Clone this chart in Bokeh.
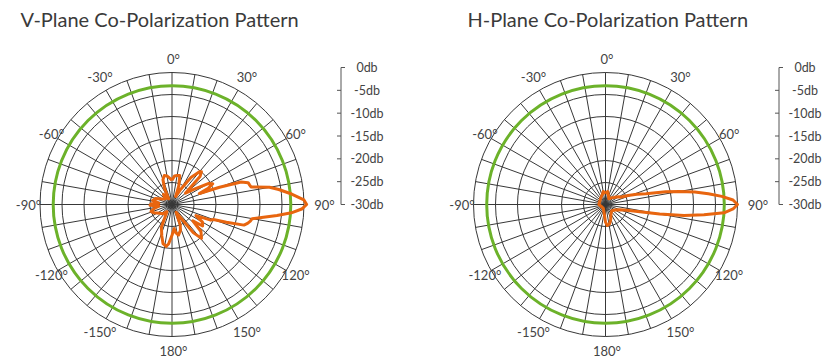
import numpy as np
from bokeh.plotting import figure
from bokeh.models import Range1d
from bokeh.core.properties import value
from bokeh.embed import file_html
from bokeh.resources import INLINE

# ---------------- data ----------------
titles = ["V-Plane Co-Polarization Pattern", "H-Plane Co-Polarization Pattern"]

angle_tick_values = [0, 30, 60, 90, 120, 150, 180, 210, 240, 270, 300, 330]
angle_tick_labels = ["0°", "30°", "60°", "90°", "120°", "150°", "180°",
                     "-150°", "-120°", "-90°", "-60°", "-30°"]

db_ticks = [0, -5, -10, -15, -20, -25, -30]
db_labels = ["0db", "-5db", "-10db", "-15db", "-20db", "-25db", "-30db"]
ring_db = [-25, -20, -15, -10, -5, 0]
half_power_db = -3

v_angles = [0, 5, 10, 15, 20, 25, 30, 35, 40, 42, 45, 50, 55, 60, 63, 66, 68,
            70, 72, 74, 76, 77.5, 80, 82, 85, 88, 90, 92, 94, 96, 98, 100, 102,
            104, 106, 108, 110, 112, 115, 120, 125, 128, 133, 139, 143, 148,
            152, 158, 162, 168, 172, 175, 180, 185, 188, 193, 198, 205, 210,
            215, 225, 235, 245, 252, 258, 263, 268, 272, 276, 282, 290, 300,
            310, 320, 330, 335, 340, 345, 350, 355]
v_db = [-24.5, -23.5, -23.3, -23.2, -25.5, -28, -26, -22.5, -20.3, -20.0, -21,
        -26, -24, -20.5, -19.6, -21, -23.3,
        -18.5, -13.5, -12.0, -11.8, -11.6, -7.5, -5.5, -2.7, 0.0, 0.6, -0.5,
        -2.8, -6.0, -9.0, -11.5, -11.8, -12.3, -13.0, -17.0, -20.0, -20.5,
        -24, -22, -21.5, -24, -21, -19.8, -22, -27,
        -28, -25, -23.8, -22.9, -23.5, -24.5, -23, -21, -20.4, -20.9, -22.5,
        -24.3, -27,
        -28, -27, -26.5, -25.5, -25, -26, -27, -25, -25.3, -27, -25.5, -26,
        -27.5, -28, -27, -28.5, -26, -24, -23.2, -23.4, -24]

h_angles = [0, 10, 20, 30, 40, 50, 55, 60, 64, 68, 72, 75, 78, 80, 82, 84, 86,
            88, 90, 92, 94, 96, 98, 100, 102, 105, 110, 120, 135, 150, 160,
            168, 175, 180, 185, 195, 210, 240, 270, 300, 330, 345, 350]
h_db = [-27.5, -27, -28, -28.5, -28, -27.5, -27, -26.5, -26.2, -24.5, -22.5,
        -20.5, -16, -13, -9.5, -6.5, -3.5, -1, 0, -1, -3, -7.5, -12, -17.5,
        -22, -25, -26.5, -27.5, -28, -27.5, -26.5, -25.5, -25.2, -26, -27.5,
        -28.5, -29, -29, -28.5, -28.5, -28, -27.5, -27]

# ---------------- layout / style ----------------
W, H = 823, 360
R = 132.0                 # radius of the 0 dB ring (px)
centers = [(171.5, 204.0), (605.0, 204.0)]
axis_x = [340.5, 778.5]
axis_top, axis_len = 67.0, 137.0
title_x = [20, 467]
label_radius = [146, 147, 141, 151, 141, 147, 146, 147, 141, 145, 141, 147]
GRID = "#383838"
GREEN = "#6cb22a"
ORANGE = "#e8650f"
TEXT = "#444444"
FONT = value("Lato")

p = figure(width=W, height=H, output_backend="svg", toolbar_location=None,
           x_range=Range1d(0, W), y_range=Range1d(H, 0),
           min_border=0, outline_line_color=None, background_fill_color="white",
           border_fill_color="white")
p.axis.visible = False
p.grid.visible = False


def rad(db):
    return R * (np.asarray(db, dtype=float) + 30.0) / 30.0


def polar(cx, cy, ang_deg, r):
    a = np.radians(np.asarray(ang_deg, dtype=float))
    return cx + r * np.sin(a), cy - r * np.cos(a)


patterns = [(v_angles, v_db), (h_angles, h_db)]

for k, (cx, cy) in enumerate(centers):
    # spokes every 10 degrees
    sp = np.arange(0, 360, 10)
    ex, ey = polar(cx, cy, sp, np.full(sp.shape, R))
    p.segment(x0=[cx] * len(sp), y0=[cy] * len(sp), x1=ex, y1=ey,
              line_color=GRID, line_width=1)
    # rings
    p.circle(x=[cx] * len(ring_db), y=[cy] * len(ring_db), radius=rad(ring_db),
             fill_color=None, line_color=GRID, line_width=1)
    # -3 dB ring
    p.circle(x=[cx], y=[cy], radius=[float(rad(half_power_db))],
             fill_color=None, line_color=GREEN, line_width=3)
    # pattern
    ang, db = patterns[k]
    px, py = polar(cx, cy, ang + [ang[0]], rad(db + [db[0]]))
    p.line(px, py, line_color=ORANGE, line_width=3, line_join="round")

    # angle labels
    lx, ly = polar(cx, cy, angle_tick_values, np.array(label_radius, dtype=float))
    p.text(x=lx + 1.5, y=ly, text=angle_tick_labels, text_align="center",
           text_baseline="middle", text_font=FONT, text_font_size="13px",
           text_color=TEXT)

    # dB scale
    ax = axis_x[k]
    ty = [axis_top + (-d) / 30.0 * axis_len for d in db_ticks]
    p.segment(x0=[ax], y0=[ty[0]], x1=[ax], y1=[ty[-1]], line_color="#555555",
              line_width=1)
    p.segment(x0=[ax, ax], y0=[ty[0], ty[-1]], x1=[ax + 4, ax + 4],
              y1=[ty[0], ty[-1]], line_color="#555555", line_width=1)
    p.segment(x0=[ax - 4] * 5, y0=ty[1:-1], x1=[ax] * 5, y1=ty[1:-1],
              line_color="#555555", line_width=1)
    p.text(x=[ax + 26] * len(db_labels), y=ty, text=db_labels,
           text_align="center", text_baseline="middle", text_font=FONT,
           text_font_size="12.5px", text_color=TEXT)

    # title
    p.text(x=[title_x[k]], y=[18], text=[titles[k]], text_align="left",
           text_baseline="middle", text_font=FONT, text_font_size="20px",
           text_color="#3a3a3a")

open("out.html", "w").write(file_html(p, INLINE))
